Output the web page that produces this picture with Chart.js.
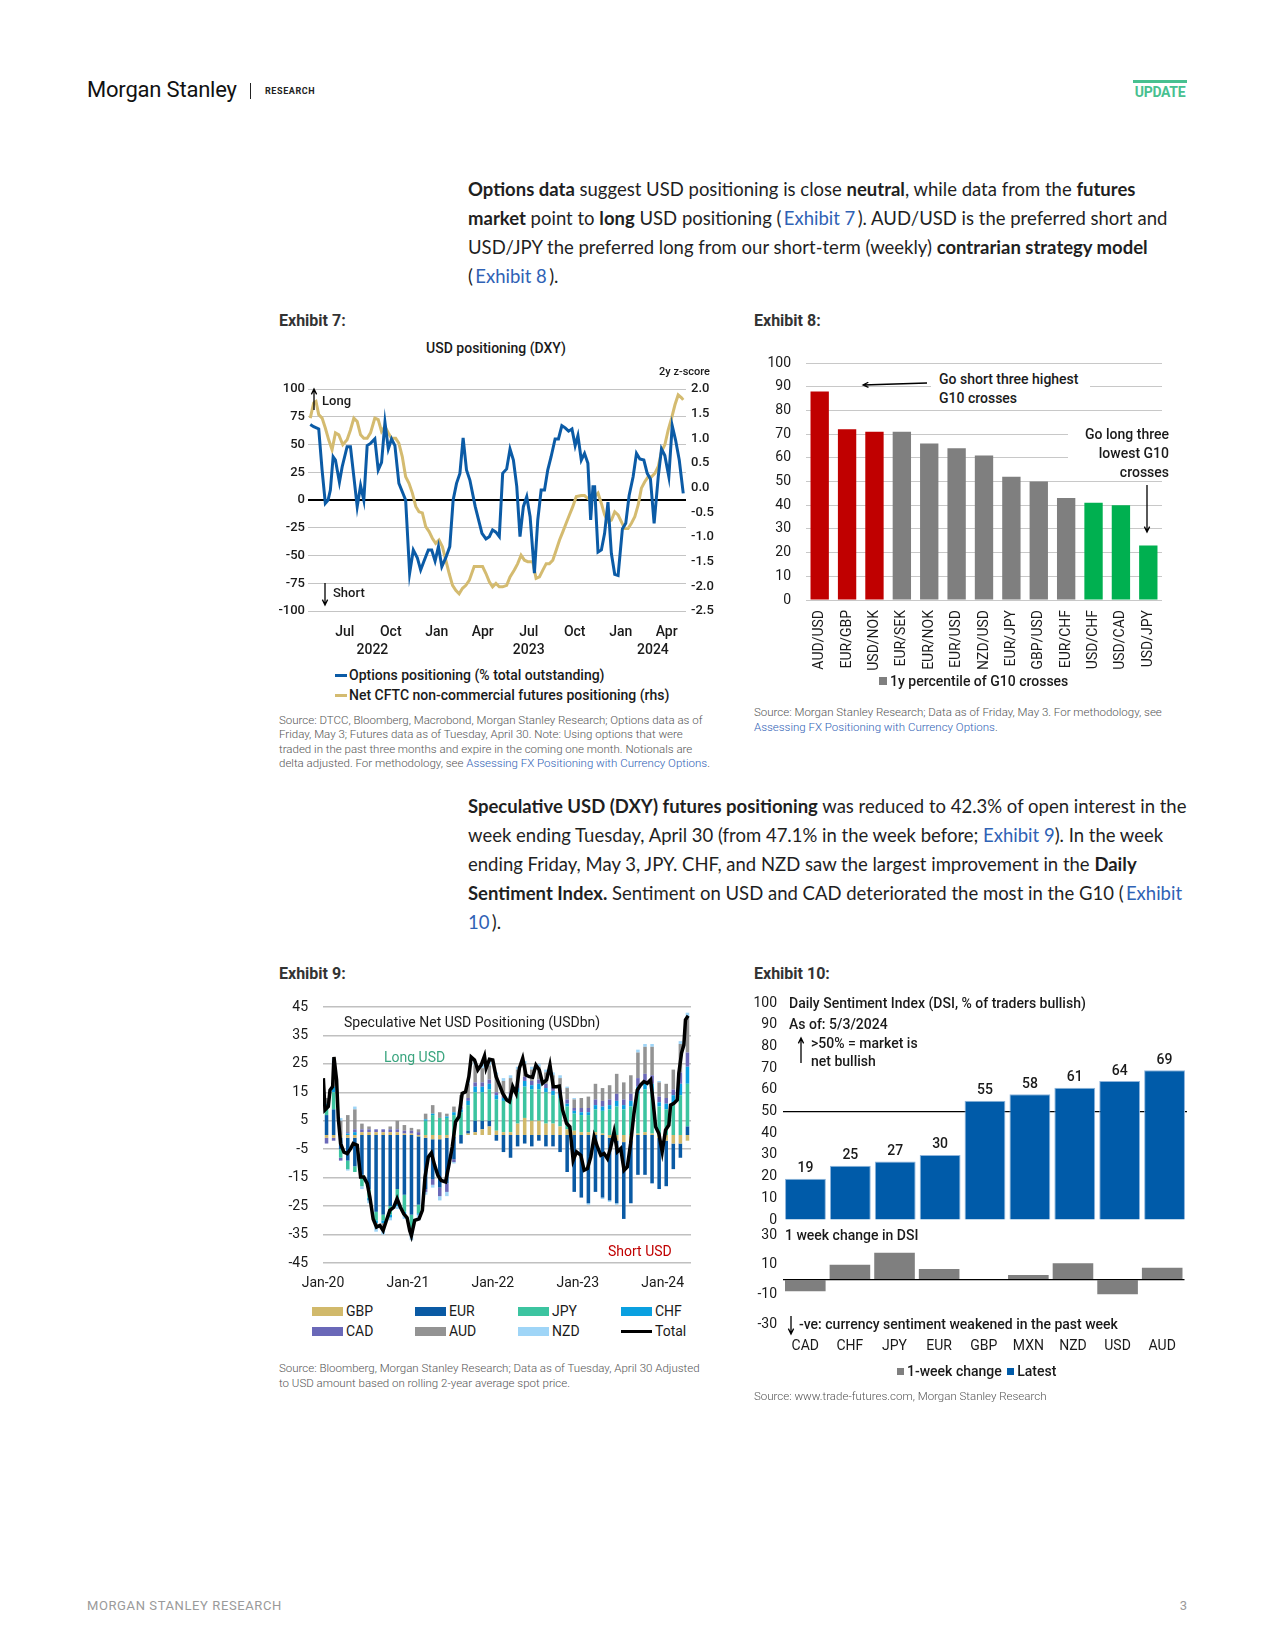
<!DOCTYPE html>
<html>
<head>
<meta charset="utf-8">
<script src="https://cdn.jsdelivr.net/npm/chart.js@4.4.1/dist/chart.umd.min.js"></script>
<style>
body{margin:0;width:1275px;height:1650px;position:relative;background:#fff;font-family:Roboto,sans-serif;color:#1a1a1a;overflow:hidden}
.abs{position:absolute;white-space:nowrap}
canvas{position:absolute}
.para{font-family:Lato,'Noto Sans',sans-serif;font-size:18.5px;line-height:29.2px;color:#1f1f1f}
.para b{font-weight:700}
.link{color:#2f62b5}
.exh{font-weight:700;font-size:16px;line-height:20px;color:#333}
.src{font-size:11.5px;line-height:14.6px;color:#555;font-weight:300}
.src .link{color:#2f62b5}
.lab{font-size:14px;line-height:18px;font-weight:500;color:#1a1a1a}
.ln{display:inline-block;width:12px;height:3px;vertical-align:middle;margin-right:2px;margin-top:-2px}
.sw{display:inline-block;width:31px;height:9px;vertical-align:middle;margin-right:3px;margin-top:-2px}
.sq{display:inline-block;width:7px;height:7px;vertical-align:middle;margin-right:3px;margin-top:-2px}
.box{background:#fff;font-size:14px;line-height:19px;font-weight:500}
</style>
</head>
<body>

<!-- header -->
<div class="abs" style="left:87px;top:76px;font-size:22px;line-height:28px;letter-spacing:-0.2px;color:#111">Morgan Stanley</div>
<div class="abs" style="left:250px;top:83px;width:1px;height:16px;background:#222"></div>
<div class="abs" style="left:265px;top:85px;font-size:9px;line-height:12px;font-weight:700;letter-spacing:0.6px;color:#222">RESEARCH</div>
<div class="abs" style="left:1133px;top:80px;width:54px;height:3px;background:#48c090"></div>
<div class="abs" style="left:1133px;top:83px;width:54px;text-align:center;font-size:14px;line-height:18px;font-weight:700;color:#48c090;letter-spacing:-0.3px">UPDATE</div>

<!-- paragraph 1 -->
<div class="abs para" style="left:468px;top:174.5px">
<b>Options data</b> suggest USD positioning is close <b>neutral</b>, while data from the <b>futures</b><br>
<b>market</b> point to <b>long</b> USD positioning (&thinsp;<span class="link">Exhibit 7</span>&thinsp;). AUD/USD is the preferred short and<br>
USD/JPY the preferred long from our short-term (weekly) <b>contrarian strategy model</b><br>
(&thinsp;<span class="link">Exhibit 8</span>&thinsp;).
</div>

<div class="abs exh" style="left:279px;top:311px">Exhibit 7:</div>
<div class="abs exh" style="left:754px;top:311px">Exhibit 8:</div>

<!-- exhibit 7 -->
<canvas id="c7" width="450" height="300" style="left:270px;top:360px;width:450px;height:300px"></canvas>
<div class="abs lab" style="left:396px;top:339px;width:200px;text-align:center">USD positioning (DXY)</div>
<div class="abs" style="left:630px;top:365px;width:80px;text-align:right;font-size:11px;line-height:14px;font-weight:500">2y z-score</div>
<div class="abs" style="left:322px;top:393px;font-size:13px;line-height:16px;font-weight:500">Long</div>
<div class="abs" style="left:333px;top:585px;font-size:13px;line-height:16px;font-weight:500">Short</div>
<div class="abs lab" style="left:335px;top:666px"><span class="ln" style="background:#0b5ba6"></span>Options positioning (% total outstanding)</div>
<div class="abs lab" style="left:335px;top:686px"><span class="ln" style="background:#d4bb70"></span>Net CFTC non-commercial futures positioning (rhs)</div>
<div class="abs src" style="left:279px;top:712.5px">Source: DTCC, Bloomberg, Macrobond, Morgan Stanley Research; Options data as of<br>Friday, May 3; Futures data as of Tuesday, April 30. Note: Using options that were<br>traded in the past three months and expire in the coming one month. Notionals are<br>delta adjusted. For methodology, see <span class="link">Assessing FX Positioning with Currency Options</span>.</div>

<!-- exhibit 8 -->
<canvas id="c8" width="440" height="340" style="left:750px;top:340px;width:440px;height:340px"></canvas>
<div class="abs box" style="left:931px;top:370px;width:159px;height:38px;padding-left:8px;box-sizing:border-box">Go short three highest<br>G10 crosses</div>
<div class="abs box" style="left:1068px;top:424.5px;width:101px;height:56px;text-align:right">Go long three<br>lowest G10<br>crosses</div>
<div class="abs lab" style="left:879px;top:672px"><span class="sq" style="background:#7f7f7f;width:8px;height:8px"></span>1y percentile of G10 crosses</div>
<div class="abs src" style="left:754px;top:705px">Source: Morgan Stanley Research; Data as of Friday, May 3. For methodology, see<br><span class="link">Assessing FX Positioning with Currency Options</span>.</div>

<!-- paragraph 2 -->
<div class="abs para" style="left:468px;top:791.5px">
<b>Speculative USD (DXY) futures positioning</b> was reduced to 42.3% of open interest in the<br>
week ending Tuesday, April 30 (from 47.1% in the week before; <span class="link">Exhibit 9</span>). In the week<br>
ending Friday, May 3, JPY. CHF, and NZD saw the largest improvement in the <b>Daily</b><br>
<b>Sentiment Index.</b> Sentiment on USD and CAD deteriorated the most in the G10 (&thinsp;<span class="link">Exhibit</span><br>
<span class="link">10</span>&thinsp;).
</div>

<div class="abs exh" style="left:279px;top:964px">Exhibit 9:</div>
<div class="abs exh" style="left:754px;top:964px">Exhibit 10:</div>

<!-- exhibit 9 -->
<canvas id="c9" width="440" height="310" style="left:270px;top:990px;width:440px;height:310px"></canvas>
<div class="abs lab" style="left:344px;top:1013px;font-weight:400">Speculative Net USD Positioning (USDbn)</div>
<div class="abs lab" style="left:384px;top:1048px;font-weight:400;color:#3aa57f">Long USD</div>
<div class="abs lab" style="left:608px;top:1242px;font-weight:400;color:#c00000">Short USD</div>
<div class="abs lab" style="left:312px;top:1302px;font-weight:400"><span class="sw" style="background:#d1b96b"></span>GBP</div>
<div class="abs lab" style="left:415px;top:1302px;font-weight:400"><span class="sw" style="background:#0a5aa4"></span>EUR</div>
<div class="abs lab" style="left:518px;top:1302px;font-weight:400"><span class="sw" style="background:#3cc4a0"></span>JPY</div>
<div class="abs lab" style="left:621px;top:1302px;font-weight:400"><span class="sw" style="background:#0aa0e0"></span>CHF</div>
<div class="abs lab" style="left:312px;top:1322px;font-weight:400"><span class="sw" style="background:#6a68b8"></span>CAD</div>
<div class="abs lab" style="left:415px;top:1322px;font-weight:400"><span class="sw" style="background:#939393"></span>AUD</div>
<div class="abs lab" style="left:518px;top:1322px;font-weight:400"><span class="sw" style="background:#9fd5f7"></span>NZD</div>
<div class="abs lab" style="left:621px;top:1322px;font-weight:400"><span class="sw" style="background:#000;height:3px"></span>Total</div>
<div class="abs src" style="left:279px;top:1361px">Source: Bloomberg, Morgan Stanley Research; Data as of Tuesday, April 30 Adjusted<br>to USD amount based on rolling 2-year average spot price.</div>

<!-- exhibit 10 -->
<canvas id="c10a" width="440" height="245" style="left:750px;top:990px;width:440px;height:245px"></canvas>
<canvas id="c10b" width="440" height="135" style="left:750px;top:1225px;width:440px;height:135px"></canvas>
<div class="abs lab" style="left:789px;top:994px">Daily Sentiment Index (DSI, % of traders bullish)</div>
<div class="abs lab" style="left:789px;top:1015px">As of: 5/3/2024</div>
<div class="abs lab" style="left:811px;top:1034px">&gt;50% = market is</div>
<div class="abs lab" style="left:811px;top:1052px">net bullish</div>
<div class="abs lab" style="left:785px;top:1226px">1 week change in DSI</div>
<div class="abs lab" style="left:799px;top:1315px">-ve: currency sentiment weakened in the past week</div>
<div class="abs lab" style="left:897px;top:1362px"><span class="sq" style="background:#7f7f7f"></span>1-week change <span class="sq" style="background:#005ba9;margin-left:2px"></span>Latest</div>
<div class="abs src" style="left:754px;top:1389px">Source: www.trade-futures.com, Morgan Stanley Research</div>

<!-- footer -->
<div class="abs" style="left:87px;top:1598px;font-size:13px;line-height:16px;letter-spacing:0.6px;color:#9a9a9a">MORGAN STANLEY RESEARCH</div>
<div class="abs" style="left:1170px;top:1598px;width:17px;text-align:right;font-size:13px;line-height:16px;color:#9a9a9a">3</div>

<script>
// ---------- Exhibit 7: USD positioning (DXY), x in months since Jan 2022 ----------
var quarterTicks = [6, 9, 12, 15, 18, 21, 24, 27];
var quarterLabels = ['Jul', 'Oct', 'Jan', 'Apr', 'Jul', 'Oct', 'Jan', 'Apr'];
var yearTicks = [7.8, 18, 26.1];
var yearLabels = ['2022', '2023', '2024'];

var optionsPositioning = [
  [3.75,68],[3.97,66],[4.30,64],[4.52,27],[4.73,-3],[4.91,0],[5.06,9],[5.24,39],[5.39,36],[5.65,16],
  [5.83,30],[6.15,48],[6.37,48],[6.59,21],[6.81,-6],[7.03,13],[7.24,0],[7.46,49],[7.68,51],[7.96,55],
  [8.18,27],[8.40,34],[8.62,70],[8.84,46],[9.05,55],[9.27,49],[9.53,15],[9.97,0],[10.23,-66],[10.47,-45],
  [10.73,-52],[10.95,-63],[11.17,-55],[11.45,-45],[11.67,-45],[11.89,-55],[12.11,-42],[12.33,-60],[12.59,-52],[12.85,-42],
  [13.07,0],[13.29,15],[13.51,24],[13.72,56],[13.94,27],[14.16,18],[14.51,-6],[14.95,-30],[15.21,-35],[15.43,-33],
  [15.64,-27],[15.86,-29],[16.08,-33],[16.30,24],[16.56,28],[16.78,46],[17.00,36],[17.22,12],[17.43,-33],[17.65,-6],
  [17.87,3],[18.09,-15],[18.37,-66],[18.59,-18],[18.81,9],[19.03,9],[19.24,27],[19.46,39],[19.72,55],[19.94,55],
  [20.16,67],[20.38,65],[20.60,62],[20.82,64],[21.03,49],[21.21,58],[21.43,36],[21.64,42],[21.86,33],[22.04,-18],
  [22.19,12],[22.30,12],[22.52,-47],[22.74,-45],[22.95,-30],[23.17,-2],[23.39,-48],[23.61,-67],[23.83,-68],[24.11,-26],
  [24.33,-21],[24.55,4],[24.81,21],[25.03,42],[25.25,37],[25.51,36],[25.73,24],[25.94,19],[26.18,-21],[26.45,21],
  [26.66,46],[26.88,40],[27.14,21],[27.36,67],[27.58,54],[27.82,36],[28.08,6]
];

var cftcZscore = [
  [3.75,1.41],[3.97,1.72],[4.12,1.75],[4.30,1.48],[4.52,1.41],[4.73,1.21],[4.95,0.97],[5.17,0.77],[5.39,1.11],[5.61,1.07],
  [5.87,0.87],[6.15,0.97],[6.37,1.17],[6.59,1.41],[6.81,1.34],[7.03,1.07],[7.24,1.00],[7.46,1.00],[7.68,1.11],[7.96,1.41],
  [8.18,1.38],[8.40,1.14],[8.62,1.24],[8.84,1.11],[9.05,1.00],[9.32,1.00],[9.53,0.90],[9.75,0.63],[9.97,0.22],[10.19,0.09],
  [10.41,-0.11],[10.63,-0.38],[10.84,-0.49],[11.06,-0.51],[11.28,-0.79],[11.50,-0.89],[11.72,-1.03],[11.93,-1.13],[12.15,-1.06],[12.37,-1.20],
  [12.59,-1.47],[12.81,-1.74],[13.03,-1.98],[13.24,-2.08],[13.46,-2.15],[13.68,-2.04],[13.90,-1.98],[14.12,-1.88],[14.44,-1.60],[14.77,-1.60],
  [14.99,-1.60],[15.21,-1.74],[15.43,-1.91],[15.64,-2.01],[15.86,-1.94],[16.08,-2.01],[16.30,-2.01],[16.56,-1.98],[16.78,-1.81],[17.06,-1.67],
  [17.28,-1.54],[17.50,-1.37],[17.72,-1.47],[17.94,-1.50],[18.26,-1.50],[18.48,-1.84],[18.70,-1.81],[18.92,-1.67],[19.14,-1.54],[19.35,-1.54],
  [19.57,-1.47],[19.79,-1.27],[20.01,-1.06],[20.23,-0.89],[20.44,-0.72],[20.66,-0.55],[20.88,-0.38],[21.10,-0.18],[21.43,-0.16],[21.64,-0.16],
  [21.86,-0.22],[22.08,-0.25],[22.30,-0.18],[22.52,-0.11],[22.74,-0.32],[22.95,-0.55],[23.17,-0.69],[23.39,-0.66],[23.61,-0.49],[23.83,-0.55],
  [24.04,-0.69],[24.26,-0.83],[24.48,-0.83],[24.70,-0.72],[24.92,-0.59],[25.14,-0.35],[25.35,-0.01],[25.57,0.12],[25.79,0.22],[26.01,0.22],
  [26.23,0.29],[26.45,0.43],[26.66,0.73],[26.88,0.87],[27.10,1.17],[27.32,1.41],[27.54,1.68],[27.75,1.88],[27.97,1.82],[28.08,1.78]
];

// ---------- Exhibit 8: contrarian model ----------
var crosses = ['AUD/USD','EUR/GBP','USD/NOK','EUR/SEK','EUR/NOK','EUR/USD','NZD/USD','EUR/JPY','GBP/USD','EUR/CHF','USD/CHF','USD/CAD','USD/JPY'];
var percentile1y = [88, 72, 71, 71, 66, 64, 61, 52, 50, 43, 41, 40, 23];
var crossSignal = ['short','short','short','none','none','none','none','none','none','none','long','long','long'];

// ---------- Exhibit 9: IMM positioning, monthly from Jan 2020 (x in months since Jan 2020) ----------
var immYearTicks = [0, 12, 24, 36, 48];
var immYearLabels = ['Jan-20', 'Jan-21', 'Jan-22', 'Jan-23', 'Jan-24'];
var gbpFlows = [-1,-1,-1,-1,-1,1,1,1,1,1,1,0.5,0.5,-0.5,-1,-1.5,-1.5,-1,-0.5,0,0.5,1,2,3,1.5,1,1,4,6,5,5,4,4,3,2,1.5,1,1,1,0.5,-1,-2,-2.5,-2,0.5,1,0.5,-1,-2,-3,-3,-2];
var eurFlows = [7,9,-4,-8,-10,-14,-19,-27,-28,-25,-19,-21,-28,-24,-18,-14,-17,-16,-8,-3,1,4,3,2,-2,-6,-8,-4,-3,-4,-2,-4,-4,-6,-13,-20,-22,-24,-20,-22,-22,-22,-27,-22,-14,-14,-17,-18,-16,-9,-5,3];
var jpyFlows = [3,6,-3,-3,-2,-4,-3,-3,-2,-3,-5,-6,-6,-3,5,7,6,6,7,8,9,10,10,11,11,11,12,11,11,11,11,11,10,10,8,6,6,6,8,8,9,10,9,10,14,15,15,10,9,11,14,15];
var chfFlows = [1,2,0,0.5,1,0,-1,-1,-1,-1,-1,-1,-1,-0.5,0.5,0.5,0,0.5,1,1,1.5,2,2,2,1.5,1,1,1.5,2,1.5,2,1.5,1.5,1.5,1,1,1,1,1.5,1.5,1.5,2,1.5,2,2.5,2.5,2.5,1.5,2,3,4,6];
var cadFlows = [-2,-1,-1,0.5,1,1,1,1,1,1,1,1,1,1,-1,-2,-3,-3,-1,1,1,1.5,1.5,1.5,1,1,1,1.5,1.5,1.5,1.5,1.5,1.5,1.5,1.5,1,1.5,1.5,2,2,2,2.5,2,2.5,3,3,3,2,2,2,4,5];
var audFlows = [2,8,5,6,7,2,1,-1,-2,1,3,2,1,1,2,3,2,1,2,4,5,6,5,5,6,5,5,5,4.5,4,4.5,4,4,4,4,3,3.5,4,5.5,4.5,5,7,6,6.5,9,9.5,10,5,5,7,10,12];
var nzdFlows = [0,2,1,-0.5,1,-1,-1,-2,-2,-1,-1,-1.5,-2,-2,-1,-1,-1.5,-1.5,-0.5,0,1,1.5,1.5,1.5,1,1,1,1,1,1,1,1,1,1,0.5,0.5,0,-0.5,0,-0.5,-0.5,-0.5,0,0,1,1,1,0.5,0,0,1,2];
var totalPositioning = [
  [0.05,20],[0.28,8.8],[0.75,10],[0.99,15.8],[1.36,17],[1.55,27.4],[1.92,19.4],[2.16,5.8],[2.49,-3],[2.96,-6],
  [3.43,-6.5],[3.90,-4.8],[4.27,-3],[4.84,-3.6],[5.31,-14.8],[5.77,-14.8],[6.24,-17],[6.62,-21.8],[7.09,-29.5],[7.56,-32.4],
  [8.03,-31.8],[8.50,-33.6],[8.97,-30],[9.44,-26.5],[10.00,-25.4],[10.47,-22.4],[10.94,-25.4],[11.41,-27.7],[11.88,-29.1],[12.25,-33.6],
  [12.49,-35.4],[12.96,-30],[13.57,-29.5],[14.04,-26.5],[14.41,-14.8],[14.88,-7.7],[15.31,-6.3],[15.77,-10.6],[16.24,-14.2],[16.71,-16],
  [17.32,-16.5],[17.79,-10.6],[18.26,-4.2],[18.73,4.6],[19.20,6.4],[19.67,14.6],[20.14,15.2],[20.61,20.5],[20.94,27.4],[21.41,26.4],
  [21.88,22.9],[22.35,24.6],[22.82,27.8],[23.05,23.5],[23.52,26.6],[23.99,26.4],[24.46,20.5],[24.93,17.6],[25.40,14.6],[25.96,12.3],
  [26.34,11.7],[26.81,17],[27.28,14.6],[27.75,23.5],[28.22,27],[28.69,21.1],[29.15,20.5],[29.62,20.3],[30.09,24.6],[30.56,22.9],
  [31.03,18.2],[31.60,19.4],[32.07,24.6],[32.54,17],[33.00,17],[33.38,17.2],[33.85,8.8],[34.41,4.1],[34.88,2.9],[35.35,-8.9],
  [35.82,-5.9],[36.43,-7.1],[36.90,-12.4],[37.37,-11.8],[37.84,-7.7],[38.31,-0.6],[38.78,-4.2],[39.25,-7.1],[39.72,-6.5],[40.19,-8.3],
  [40.66,-4.2],[41.13,1.1],[41.60,-5.9],[42.07,-4.8],[42.54,-12.4],[43.00,-11.2],[43.47,-3],[43.94,7.6],[44.41,15.8],[44.88,17.6],
  [45.35,18.8],[45.82,18.2],[46.29,19.4],[46.62,12.3],[47.00,2.9],[47.46,0.5],[47.93,-5.9],[48.40,1.7],[48.87,3.5],[49.11,10.5],
  [49.58,11.1],[50.05,12.3],[50.28,21.7],[50.66,28.8],[50.99,31.7],[51.22,40.5],[51.60,41.9]
];

// ---------- Exhibit 10: Daily Sentiment Index ----------
var dsiCurrencies = ['CAD','CHF','JPY','EUR','GBP','MXN','NZD','USD','AUD'];
var dsiLatest = [19, 25, 27, 30, 55, 58, 61, 64, 69];
var dsiWeekChange = [-8, 10, 18, 7, 0, 3, 11, -10, 8];

Chart.defaults.font.family = 'Roboto';
Chart.defaults.font.size = 13;
Chart.defaults.color = '#1a1a1a';
Chart.defaults.animation = false;
Chart.defaults.plugins.legend.display = false;
Chart.defaults.plugins.tooltip.enabled = false;

function arrow(ctx, x1, y1, x2, y2) {
  var a = Math.atan2(y2 - y1, x2 - x1), h = 6;
  ctx.save();
  ctx.strokeStyle = '#000';
  ctx.lineWidth = 1.3;
  ctx.beginPath();
  ctx.moveTo(x1, y1);
  ctx.lineTo(x2, y2);
  ctx.moveTo(x2 - h * Math.cos(a - 0.45), y2 - h * Math.sin(a - 0.45));
  ctx.lineTo(x2, y2);
  ctx.lineTo(x2 - h * Math.cos(a + 0.45), y2 - h * Math.sin(a + 0.45));
  ctx.stroke();
  ctx.restore();
}
function arrowPlugin(list) {
  return { id: 'arrows', afterDraw: function (chart) { list.forEach(function (p) { arrow(chart.ctx, p[0], p[1], p[2], p[3]); }); } };
}
function toXY(pairs) { return pairs.map(function (p) { return { x: p[0], y: p[1] }; }); }
function fixedTicks(values) { return function (scale) { scale.ticks = values.map(function (v) { return { value: v }; }); }; }
// y-axis gap between labels and plot, done with an invisible tick mark so it does not pad the plot vertically
function gapGrid(gap, color, width) {
  return { drawTicks: true, tickLength: gap, tickColor: 'rgba(0,0,0,0)', color: color, lineWidth: width || 1 };
}

// Exhibit 7
new Chart(document.getElementById('c7'), {
  type: 'line',
  data: {
    datasets: [{
      label: 'Options positioning (% total outstanding)',
      data: toXY(optionsPositioning),
      borderColor: '#0b5ba6',
      borderWidth: 3,
      pointRadius: 0,
      yAxisID: 'y',
      order: 0,
    }, {
      label: 'Net CFTC non-commercial futures positioning (rhs)',
      data: toXY(cftcZscore),
      borderColor: '#d4bb70',
      borderWidth: 3,
      pointRadius: 0,
      yAxisID: 'y1',
      order: 1,
    }],
  },
  options: {
    responsive: false,
    layout: { padding: { top: 29 }, autoPadding: false },
    scales: {
      x: {
        type: 'linear', min: 3.6, max: 28.26,
        afterBuildTicks: fixedTicks(quarterTicks),
        ticks: { callback: function (v, i) { return quarterLabels[i]; }, padding: 13, maxRotation: 0, autoSkip: false, font: { size: 14, weight: 500 } },
        grid: { display: false, drawTicks: false }, border: { display: false },
        afterFit: function (s) { s.height = 30; },
      },
      x2: {
        type: 'linear', position: 'bottom', weight: 1, min: 3.6, max: 28.26,
        afterBuildTicks: fixedTicks(yearTicks),
        ticks: { callback: function (v, i) { return yearLabels[i]; }, padding: 1, maxRotation: 0, autoSkip: false, font: { size: 14, weight: 500 } },
        grid: { display: false, drawTicks: false }, border: { display: false },
        afterFit: function (s) { s.height = 19; },
      },
      y: {
        position: 'left', min: -100, max: 100,
        ticks: { stepSize: 25, padding: 3, font: { weight: 500 } },
        grid: {
          drawTicks: false,
          color: function (c) { return c.tick.value === 0 ? '#000' : '#c4c4c4'; },
          lineWidth: function (c) { return c.tick.value === 0 ? 2 : 1; },
        },
        border: { display: false },
        afterFit: function (s) { s.width = 38; },
      },
      y1: {
        position: 'right', min: -2.5, max: 2.0,
        ticks: { stepSize: 0.5, padding: 5, callback: function (v) { return v.toFixed(1); }, font: { weight: 500 } },
        grid: { display: false, drawTicks: false }, border: { display: false },
        afterFit: function (s) { s.width = 34; },
      },
    },
  },
  plugins: [arrowPlugin([[44, 50, 44, 29], [55, 223, 55, 245]])],
});

// Exhibit 8
var signalColor = { short: '#c00000', none: '#7f7f7f', long: '#00b050' };
new Chart(document.getElementById('c8'), {
  type: 'bar',
  data: {
    labels: crosses,
    datasets: [{
      label: '1y percentile of G10 crosses',
      data: percentile1y,
      backgroundColor: crossSignal.map(function (s) { return signalColor[s]; }),
      categoryPercentage: 1,
      barPercentage: 0.67,
    }],
  },
  options: {
    responsive: false,
    layout: { padding: { top: 23, right: 28 }, autoPadding: false },
    scales: {
      x: {
        ticks: { minRotation: 90, maxRotation: 90, padding: 10, autoSkip: false, font: { size: 14 } },
        grid: { display: false, drawTicks: false }, border: { display: false },
        afterFit: function (s) { s.height = 80; },
      },
      y: {
        min: 0, max: 100,
        ticks: { stepSize: 10, padding: 0, font: { size: 14 } },
        grid: gapGrid(15, '#c8c8c8'), border: { display: false },
        afterFit: function (s) { s.width = 56; },
      },
    },
  },
  plugins: [arrowPlugin([[177, 43, 113, 45], [397, 145, 397, 192]])],
});

// Exhibit 9
var immColors = { GBP: '#d1b96b', EUR: '#0a5aa4', JPY: '#3cc4a0', CHF: '#0aa0e0', CAD: '#6a68b8', AUD: '#939393', NZD: '#9fd5f7' };
var immSeries = [['GBP', gbpFlows], ['EUR', eurFlows], ['JPY', jpyFlows], ['CHF', chfFlows], ['CAD', cadFlows], ['AUD', audFlows], ['NZD', nzdFlows]];
var immDatasets = immSeries.map(function (s) {
  return {
    type: 'bar',
    label: s[0],
    data: s[1].map(function (v, i) { return { x: i + 0.5, y: v }; }),
    backgroundColor: immColors[s[0]],
    categoryPercentage: 1,
    barPercentage: 0.5,
    order: 1,
  };
});
immDatasets.push({
  type: 'line',
  label: 'Total',
  data: toXY(totalPositioning),
  borderColor: '#000',
  borderWidth: 3.5,
  pointRadius: 0,
  stack: 'total',
  order: 0,
});
new Chart(document.getElementById('c9'), {
  type: 'bar',
  data: { datasets: immDatasets },
  options: {
    responsive: false,
    layout: { padding: { top: 17, right: 19 }, autoPadding: false },
    scales: {
      x: {
        type: 'linear', min: 0, max: 52, stacked: true, offset: false,
        afterBuildTicks: fixedTicks(immYearTicks),
        ticks: { callback: function (v, i) { return immYearLabels[i]; }, padding: 12, maxRotation: 0, autoSkip: false, font: { size: 14 } },
        grid: { display: false, drawTicks: false }, border: { display: false },
        afterFit: function (s) { s.height = 37; },
      },
      y: {
        stacked: true, min: -45, max: 45,
        ticks: { stepSize: 10, padding: 0, font: { size: 14 } },
        grid: gapGrid(15, '#c0c0c0', 1.5), border: { display: false },
        afterFit: function (s) { s.width = 53; },
      },
    },
  },
});

// Exhibit 10 - latest DSI
var valueLabels = {
  id: 'valueLabels',
  afterDatasetsDraw: function (chart) {
    var ctx = chart.ctx;
    ctx.save();
    ctx.font = '500 14px Roboto';
    ctx.fillStyle = '#1a1a1a';
    ctx.textAlign = 'center';
    ctx.textBaseline = 'middle';
    chart.getDatasetMeta(0).data.forEach(function (bar, i) {
      ctx.fillText(String(chart.data.datasets[0].data[i]), bar.x, bar.y - 10);
    });
    ctx.restore();
  },
};
new Chart(document.getElementById('c10a'), {
  type: 'bar',
  data: {
    labels: dsiCurrencies,
    datasets: [{
      label: 'Latest',
      data: dsiLatest,
      backgroundColor: '#005ba9',
      borderColor: '#8fb5dc',
      borderWidth: 1,
      categoryPercentage: 1,
      barPercentage: 0.91,
    }],
  },
  options: {
    responsive: false,
    layout: { padding: { top: 13, right: 3, bottom: 15 }, autoPadding: false },
    scales: {
      x: { display: false, ticks: { display: false }, afterFit: function (s) { s.height = 0; } },
      y: {
        min: 0, max: 100, z: 1,
        ticks: { stepSize: 10, padding: 0, font: { size: 14 } },
        grid: gapGrid(6, function (c) { return c.tick.value === 50 ? '#000' : 'rgba(0,0,0,0)'; }, 1.2),
        border: { display: false },
        afterFit: function (s) { s.width = 33; },
      },
    },
  },
  plugins: [valueLabels, arrowPlugin([[51, 73, 51, 48]])],
});

// Exhibit 10 - 1 week change
new Chart(document.getElementById('c10b'), {
  type: 'bar',
  data: {
    labels: dsiCurrencies,
    datasets: [{
      label: '1-week change',
      data: dsiWeekChange,
      backgroundColor: '#7f7f7f',
      categoryPercentage: 1,
      barPercentage: 0.91,
    }],
  },
  options: {
    responsive: false,
    layout: { padding: { top: 10, right: 3 }, autoPadding: false },
    scales: {
      x: {
        ticks: { padding: 14, maxRotation: 0, autoSkip: false, font: { size: 14 } },
        grid: { display: false, drawTicks: false }, border: { display: false },
        afterFit: function (s) { s.height = 36; },
      },
      y: {
        min: -30, max: 30, z: 1,
        afterBuildTicks: fixedTicks([-30, -10, 0, 10, 30]),
        ticks: { padding: 0, font: { size: 14 }, callback: function (v) { return v === 0 ? '' : v; } },
        grid: gapGrid(6, function (c) { return c.tick.value === 0 ? '#000' : 'rgba(0,0,0,0)'; }, 1.2),
        border: { display: false },
        afterFit: function (s) { s.width = 33; },
      },
    },
  },
  plugins: [arrowPlugin([[41, 91, 41, 109]])],
});
</script>
</body>
</html>
